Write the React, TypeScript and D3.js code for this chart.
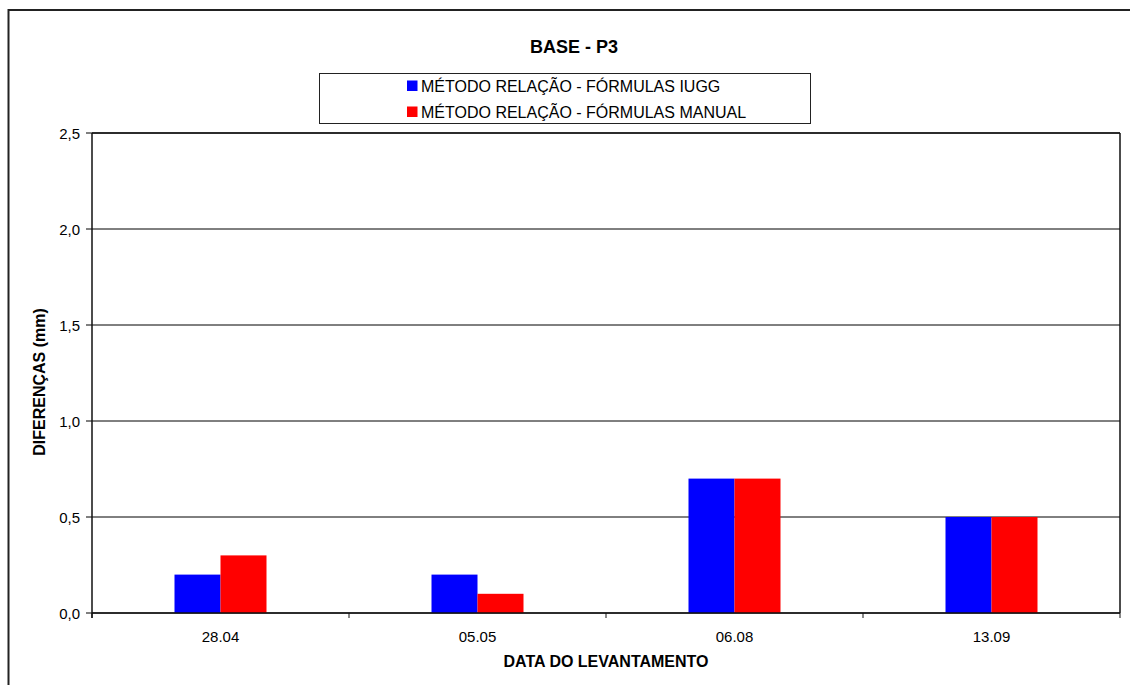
import React from "react";
import * as d3 from "d3";

const categories = ["28.04", "05.05", "06.08", "13.09"];
const seriesNames = [
  "MÉTODO RELAÇÃO - FÓRMULAS IUGG",
  "MÉTODO RELAÇÃO - FÓRMULAS MANUAL",
];
const iuggValues = [0.2, 0.2, 0.7, 0.5];
const manualValues = [0.3, 0.1, 0.7, 0.5];
const yTicks = [0, 0.5, 1.0, 1.5, 2.0, 2.5];
const colors = ["#0000FF", "#FF0000"];

const W = 1130;
const H = 685;
const plot = { left: 92, top: 133, right: 1120, bottom: 613 };
const FONT = "'Liberation Sans', Arial, sans-serif";

export default function App() {
  const x = d3
    .scaleBand<string>()
    .domain(categories)
    .range([plot.left, plot.right])
    .paddingInner(0)
    .paddingOuter(0);
  const y = d3.scaleLinear().domain([0, 2.5]).range([plot.bottom, plot.top]);
  const groupW = 92;
  const sub = d3
    .scaleBand<number>()
    .domain([0, 1])
    .range([0, groupW]);
  const series = [iuggValues, manualValues];
  const fmt = (v: number) => v.toFixed(1).replace(".", ",");
  const boundaries = [...categories.map((c) => x(c)!), plot.right];

  return (
    <svg
      width={W}
      height={H}
      style={{ position: "absolute", left: 0, top: 0, background: "#fff" }}
      fontFamily={FONT}
    >
      {/* chart frame */}
      <rect x={8.5} y={10} width={1200} height={700} fill="#fff" stroke="#222" strokeWidth={2} />

      <text x={574} y={53} textAnchor="middle" fontSize={18} fontWeight="bold" fill="#000">
        BASE - P3
      </text>

      {/* legend */}
      <rect x={319.5} y={73.5} width={491} height={50} fill="#fff" stroke="#222" strokeWidth={1} />
      {seriesNames.map((name, i) => (
        <g key={name}>
          <rect x={407} y={80.5 + i * 26} width={10.5} height={10.5} fill={colors[i]} />
          <text x={421} y={91.5 + i * 26} fontSize={16} fill="#000">
            {name}
          </text>
        </g>
      ))}

      {/* gridlines */}
      {yTicks.map((t) => (
        <g key={t}>
          <line x1={plot.left} x2={plot.right} y1={y(t)} y2={y(t)} stroke="#000" strokeWidth={1} />
          <line x1={plot.left - 6} x2={plot.left} y1={y(t)} y2={y(t)} stroke="#000" strokeWidth={1} />
          <text x={80} y={y(t) + 5.5} textAnchor="end" fontSize={15} fill="#000">
            {fmt(t)}
          </text>
        </g>
      ))}

      {/* bars */}
      {categories.map((c, ci) => {
        const cx = x(c)! + x.bandwidth() / 2;
        const gx = cx - groupW / 2;
        return series.map((vals, si) => (
          <rect
            key={c + si}
            x={gx + sub(si)!}
            y={y(vals[ci])}
            width={sub.bandwidth()}
            height={y(0) - y(vals[ci])}
            fill={colors[si]}
          />
        ));
      })}

      {/* plot border */}
      <line x1={plot.left} x2={plot.right} y1={plot.top} y2={plot.top} stroke="#111" strokeWidth={1.5} />
      <line x1={plot.right} x2={plot.right} y1={plot.top} y2={plot.bottom} stroke="#111" strokeWidth={1.5} />
      <line x1={plot.left} x2={plot.left} y1={plot.top} y2={plot.bottom + 5} stroke="#111" strokeWidth={1.5} />
      <line x1={plot.left} x2={plot.right} y1={plot.bottom} y2={plot.bottom} stroke="#111" strokeWidth={1.5} />

      {/* x ticks and labels */}
      {boundaries.map((bx, i) => (
        <line key={i} x1={bx} x2={bx} y1={plot.bottom} y2={plot.bottom + 5} stroke="#111" strokeWidth={1} />
      ))}
      {categories.map((c) => (
        <text key={c} x={x(c)! + x.bandwidth() / 2} y={641.5} textAnchor="middle" fontSize={15} fill="#000">
          {c}
        </text>
      ))}

      <text x={606} y={666.5} textAnchor="middle" fontSize={16} fontWeight="bold" fill="#000">
        DATA DO LEVANTAMENTO
      </text>
      <text
        transform={`translate(45, 382) rotate(-90)`}
        textAnchor="middle"
        fontSize={16}
        fontWeight="bold"
        fill="#000"
      >
        DIFERENÇAS (mm)
      </text>
    </svg>
  );
}
